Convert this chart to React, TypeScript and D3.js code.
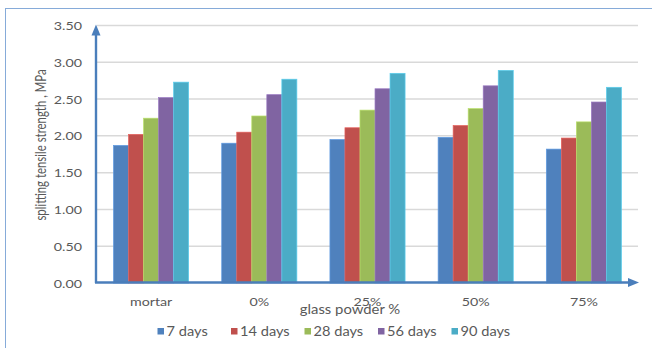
import React from "react";
import * as d3 from "d3";

const categories = ["mortar", "0%", "25%", "50%", "75%"];
const seriesNames = ["7 days", "14 days", "28 days", "56 days", "90 days"];
const days7 = [1.87, 1.9, 1.95, 1.98, 1.82];
const days14 = [2.02, 2.05, 2.11, 2.14, 1.97];
const days28 = [2.24, 2.27, 2.35, 2.37, 2.19];
const days56 = [2.52, 2.56, 2.64, 2.68, 2.46];
const days90 = [2.73, 2.77, 2.85, 2.89, 2.66];
const yTicks = [0, 0.5, 1, 1.5, 2, 2.5, 3, 3.5];
const colors = ["#4F81BD", "#C0504D", "#9BBB59", "#8064A2", "#4BACC6"];

const seriesValues = [days7, days14, days28, days56, days90];

const W = 652;
const H = 348;
const left = 97;
const right = 638;
const top = 25.5;
const bottom = 283;
const FONT = "Lato, 'Open Sans', sans-serif";
const TEXT = "#595959";
const SX = 1.17;

function Label(props: {
  x: number;
  y: number;
  text: string;
  size: number;
  anchor?: string;
  baseline?: string;
}) {
  const { x, y, text, size, anchor = "middle", baseline = "auto" } = props;
  return (
    <text
      transform={`translate(${x},${y}) scale(${SX},1)`}
      fontFamily={FONT}
      fontSize={size}
      fill={TEXT}
      textAnchor={anchor}
      dominantBaseline={baseline}
    >
      {text}
    </text>
  );
}

export default function App() {
  const x0 = d3.scaleBand<string>().domain(categories).range([left, right]).padding(0);
  const x1 = d3
    .scaleBand<string>()
    .domain(seriesNames)
    .range([0, x0.step()])
    .paddingInner(0)
    .paddingOuter(1.1);
  const y = d3.scaleLinear().domain([0, 3.5]).range([bottom, top]);

  const axisColor = "#4A7EBB";

  return (
    <svg
      width={W}
      height={H}
      style={{ position: "absolute", left: 0, top: 0, background: "#fff" }}
    >
      <rect x={5.5} y={8.5} width={W} height={H} fill="none" stroke="#86ABD9" strokeWidth={1} />

      {/* gridlines */}
      {yTicks.slice(1).map((t) => (
        <line
          key={t}
          x1={left}
          x2={right}
          y1={y(t)}
          y2={y(t)}
          stroke="#D9D9D9"
          strokeWidth={1.5}
        />
      ))}

      {/* bars */}
      {categories.map((c, ci) => (
        <g key={c} transform={`translate(${x0(c)},0)`}>
          {seriesNames.map((s, si) => {
            const v = seriesValues[si][ci];
            const c0 = d3.color(colors[si])!.brighter(0.5).toString();
            return (
              <rect
                key={s}
                x={x1(s)}
                y={y(v)}
                width={x1.bandwidth()}
                height={y(0) - y(v)}
                fill={colors[si]}
                stroke={c0}
                strokeWidth={0.7}
              />
            );
          })}
        </g>
      ))}

      {/* axes with arrowheads */}
      <line x1={96} x2={96} y1={bottom} y2={top + 8} stroke={axisColor} strokeWidth={2.4} />
      <path d={`M96,${top - 1} L91.5,${top + 10} L100.5,${top + 10} Z`} fill={axisColor} />
      <line x1={95} x2={right - 8} y1={282.5} y2={282.5} stroke={axisColor} strokeWidth={2.4} />
      <path d={`M${right + 1},282.5 L${right - 10},278 L${right - 10},287 Z`} fill={axisColor} />

      {/* y tick labels */}
      {yTicks.map((t) => (
        <Label
          key={t}
          x={82}
          y={y(t)}
          text={d3.format(".2f")(t)}
          size={12.2}
          anchor="end"
          baseline="central"
        />
      ))}

      {/* category labels */}
      {categories.map((c) => (
        <Label key={c} x={x0(c)! + x0.bandwidth() / 2} y={305.5} text={c} size={12.2} />
      ))}

      <Label x={350} y={313.5} text="glass powder %" size={12.7} />

      <text
        transform={`translate(46,145) rotate(-90) scale(1,1.27)`}
        fontFamily={FONT}
        fontSize={11.4}
        fill={TEXT}
        textAnchor="middle"
      >
        splitting tensile strength , MPa
      </text>

      {/* legend */}
      {seriesNames.map((s, i) => {
        const lx = 157.5 + i * 73.5;
        return (
          <g key={s}>
            <rect x={lx} y={328} width={6.5} height={6.5} fill={colors[i]} />
            <Label x={lx + 9} y={335.5} text={s} size={12.5} anchor="start" />
          </g>
        );
      })}
    </svg>
  );
}
